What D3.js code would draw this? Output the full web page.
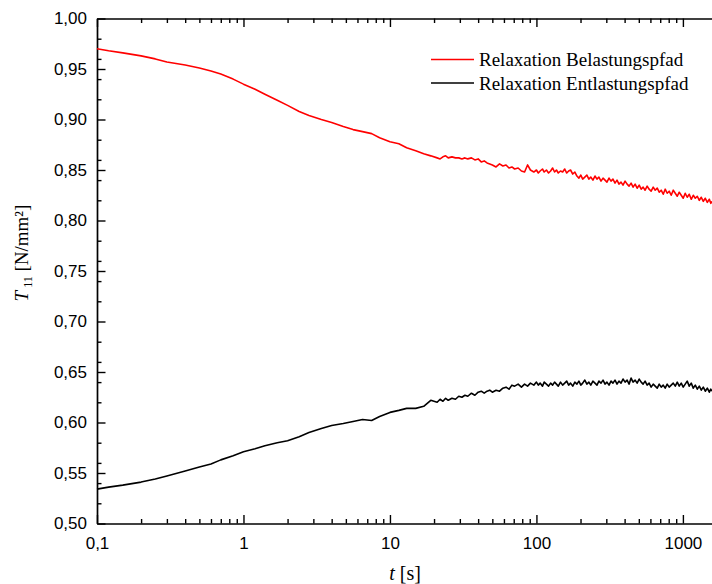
<!DOCTYPE html>
<html lang="de">
<head>
<meta charset="UTF-8">
<title>Relaxation T11</title>
<script src="https://d3js.org/d3.v7.min.js"></script>
<style>
  body { margin: 0; background: #fff; }
  .axis .tick text { font-family: "Liberation Sans", Arial, sans-serif; font-size: 17px; fill: #000; }
  .axis path { stroke: #000; stroke-width: 1.7px; }
  .axis line { stroke: #000; stroke-width: 1.4px; }
  .series { fill: none; stroke-width: 1.6px; stroke-linejoin: round; }
  .serif { font-family: "Liberation Serif", "Times New Roman", serif; fill: #000; }
</style>
</head>
<body>
<svg width="712" height="584"></svg>
<script>
// time [s], shared by both curves
const times = [
  0.1, 0.12, 0.15, 0.2, 0.25, 0.3, 0.4, 0.5, 0.6, 0.7, 0.85, 1, 1.2, 1.4, 1.7, 2, 2.4, 2.8, 3.4, 4,
  4.8, 5.6, 6.5, 7.5, 8.5, 10, 11.5, 13, 15, 17, 19,
  21, 22, 23, 24, 25, 26.5, 28, 29.5, 31, 32.5, 34, 36, 38, 40, 42, 44, 46, 48, 50, 53,
  56, 59, 62, 65, 68, 71, 75, 79, 83, 87, 91, 96,
  100, 103, 106, 110, 113, 117, 121, 125, 129, 133,
  137, 141, 146, 151, 156, 161, 166, 171, 177, 183,
  189, 195, 201, 207, 214, 221, 228, 235, 243, 251,
  259, 267, 276, 285, 294, 303, 313, 323, 333, 344,
  355, 366, 378, 390, 403, 416, 429, 443, 457, 472,
  487, 503, 519, 535, 552, 570, 588, 607, 627, 647,
  668, 689, 711, 734, 757, 781, 806, 832, 859, 887,
  915, 944, 974, 1005, 1037, 1070, 1105, 1140, 1177, 1215,
  1254, 1294, 1335, 1378, 1422, 1468, 1515, 1550, 1580
];

// T11 [N/mm²], loading path
const loadPath = [
  0.970, 0.968, 0.966, 0.963, 0.960, 0.957, 0.954, 0.951, 0.948, 0.945, 0.940, 0.935, 0.930, 0.925, 0.919, 0.914, 0.908, 0.904, 0.900, 0.897,
  0.893, 0.890, 0.888, 0.886, 0.882, 0.878, 0.876, 0.872, 0.869, 0.866, 0.864,
  0.862, 0.861, 0.863, 0.864, 0.862, 0.863, 0.862, 0.862, 0.861, 0.862, 0.861, 0.862, 0.860, 0.861, 0.858, 0.859, 0.857, 0.856, 0.855, 0.853,
  0.856, 0.854, 0.855, 0.852, 0.853, 0.851, 0.852, 0.849, 0.848, 0.855, 0.850, 0.848,
  0.850, 0.847, 0.849, 0.851, 0.848, 0.850, 0.847, 0.849, 0.852, 0.848,
  0.850, 0.847, 0.849, 0.848, 0.851, 0.847, 0.849, 0.850, 0.846, 0.848,
  0.844, 0.842, 0.845, 0.841, 0.843, 0.845, 0.841, 0.843, 0.840, 0.844,
  0.841, 0.843, 0.839, 0.842, 0.840, 0.838, 0.842, 0.839, 0.841, 0.837,
  0.840, 0.836, 0.838, 0.835, 0.839, 0.836, 0.834, 0.837, 0.833, 0.836,
  0.832, 0.835, 0.831, 0.833, 0.830, 0.834, 0.831, 0.829, 0.833, 0.830,
  0.832, 0.828, 0.830, 0.826, 0.831, 0.827, 0.829, 0.825, 0.830, 0.827,
  0.824, 0.828, 0.825, 0.822, 0.827, 0.823, 0.826, 0.821, 0.825, 0.822,
  0.824, 0.820, 0.823, 0.819, 0.822, 0.818, 0.821, 0.817, 0.819
];

// T11 [N/mm²], unloading path
const unloadPath = [
  0.534, 0.536, 0.538, 0.541, 0.544, 0.547, 0.552, 0.556, 0.559, 0.563, 0.567, 0.571, 0.574, 0.577, 0.580, 0.582, 0.586, 0.590, 0.594, 0.597,
  0.599, 0.601, 0.603, 0.602, 0.606, 0.610, 0.612, 0.614, 0.614, 0.616, 0.622,
  0.620, 0.623, 0.621, 0.624, 0.622, 0.624, 0.623, 0.626, 0.625, 0.627, 0.626, 0.629, 0.627, 0.630, 0.631, 0.629, 0.631, 0.632, 0.630, 0.632,
  0.631, 0.634, 0.635, 0.633, 0.637, 0.636, 0.638, 0.635, 0.638, 0.636, 0.639, 0.637,
  0.640, 0.637, 0.639, 0.636, 0.640, 0.638, 0.636, 0.639, 0.637, 0.640,
  0.638, 0.636, 0.640, 0.637, 0.639, 0.641, 0.637, 0.639, 0.636, 0.640,
  0.638, 0.641, 0.637, 0.639, 0.642, 0.638, 0.640, 0.637, 0.641, 0.639,
  0.637, 0.641, 0.639, 0.642, 0.638, 0.640, 0.637, 0.641, 0.639, 0.642,
  0.638, 0.641, 0.639, 0.643, 0.640, 0.642, 0.638, 0.644, 0.640, 0.642,
  0.639, 0.643, 0.640, 0.638, 0.641, 0.637, 0.639, 0.635, 0.638, 0.636,
  0.634, 0.638, 0.635, 0.637, 0.634, 0.638, 0.635, 0.637, 0.639, 0.636,
  0.640, 0.636, 0.639, 0.635, 0.638, 0.641, 0.636, 0.639, 0.634, 0.637,
  0.633, 0.636, 0.632, 0.635, 0.631, 0.634, 0.630, 0.633, 0.631
];

const seriesNames = ["Relaxation Belastungspfad", "Relaxation Entlastungspfad"];
const seriesColors = ["#ff0000", "#000000"];

const xMajorTicks = [0.1, 1, 10, 100, 1000];
const xTickLabels = ["0,1", "1", "10", "100", "1000"];
const yMajorTicks = [0.50, 0.55, 0.60, 0.65, 0.70, 0.75, 0.80, 0.85, 0.90, 0.95, 1.00];
const yTickLabels = ["0,50", "0,55", "0,60", "0,65", "0,70", "0,75", "0,80", "0,85", "0,90", "0,95", "1,00"];

const svg = d3.select("svg");
const plot = {left: 97, right: 712, top: 18.5, bottom: 523.5};

const x = d3.scaleLog().domain([0.1, 1580]).range([plot.left, plot.right]);
const y = d3.scaleLinear().domain([0.5, 1.0]).range([plot.bottom, plot.top]);

const xMinor = x.ticks().filter(d => !xMajorTicks.some(m => Math.abs(m - d) < 1e-9));
const yMinor = y.ticks(20).filter(d => !yMajorTicks.some(m => Math.abs(m - d) < 1e-9));

// minor ticks first
svg.append("g").attr("class", "axis").attr("transform", `translate(0,${plot.bottom})`)
  .call(d3.axisBottom(x).tickValues(xMinor).tickSize(-4.5).tickSizeOuter(0).tickFormat(""))
  .call(g => g.select(".domain").remove());
svg.append("g").attr("class", "axis").attr("transform", `translate(0,${plot.top})`)
  .call(d3.axisTop(x).tickValues(xMinor).tickSize(-4.5).tickSizeOuter(0).tickFormat(""))
  .call(g => g.select(".domain").remove());
svg.append("g").attr("class", "axis").attr("transform", `translate(${plot.left},0)`)
  .call(d3.axisLeft(y).tickValues(yMinor).tickSize(-4.5).tickSizeOuter(0).tickFormat(""))
  .call(g => g.select(".domain").remove());

// major ticks + axis lines
svg.append("g").attr("class", "axis").attr("transform", `translate(0,${plot.bottom})`)
  .call(d3.axisBottom(x).tickValues(xMajorTicks).tickSize(-8.5).tickSizeOuter(0).tickPadding(13)
    .tickFormat((d, i) => xTickLabels[i]));
svg.append("g").attr("class", "axis").attr("transform", `translate(0,${plot.top})`)
  .call(d3.axisTop(x).tickValues(xMajorTicks).tickSize(-8.5).tickSizeOuter(0).tickFormat(""));
svg.append("g").attr("class", "axis").attr("transform", `translate(${plot.left},0)`)
  .call(d3.axisLeft(y).tickValues(yMajorTicks).tickSize(-8.5).tickSizeOuter(0).tickPadding(10)
    .tickFormat((d, i) => yTickLabels[i]));

// curves
const line = d3.line().x(d => x(d.t)).y(d => y(d.v));
[loadPath, unloadPath].forEach((vals, i) => {
  const data = times.map((t, j) => ({t: t, v: vals[j]}));
  svg.append("path")
    .datum(data)
    .attr("class", "series")
    .attr("stroke", seriesColors[i])
    .attr("d", line);
});

// legend
const legend = svg.append("g").attr("transform", "translate(431,59.5)");
seriesNames.forEach((name, i) => {
  legend.append("line")
    .attr("x1", 0).attr("x2", 43)
    .attr("y1", i * 23.5).attr("y2", i * 23.5)
    .attr("stroke", seriesColors[i]).attr("stroke-width", 1.6);
  legend.append("text")
    .attr("class", "serif")
    .attr("x", 48).attr("y", i * 23.5 + 6.5)
    .style("font-size", "19px")
    .text(name);
});

// x label
const xl = svg.append("text").attr("class", "serif")
  .attr("x", 405).attr("y", 580)
  .attr("text-anchor", "middle")
  .style("font-size", "20px");
xl.append("tspan").style("font-style", "italic").text("t");
xl.append("tspan").text(" [s]");

// y label
const yl = svg.append("text").attr("class", "serif")
  .attr("transform", "translate(28,253) rotate(-90)")
  .attr("text-anchor", "middle")
  .style("font-size", "19px");
yl.append("tspan").style("font-style", "italic").text("T");
yl.append("tspan").attr("dy", 4).style("font-size", "12px").text(" 11");
yl.append("tspan").attr("dy", -4).text(" [N/mm²]");
</script>
</body>
</html>
